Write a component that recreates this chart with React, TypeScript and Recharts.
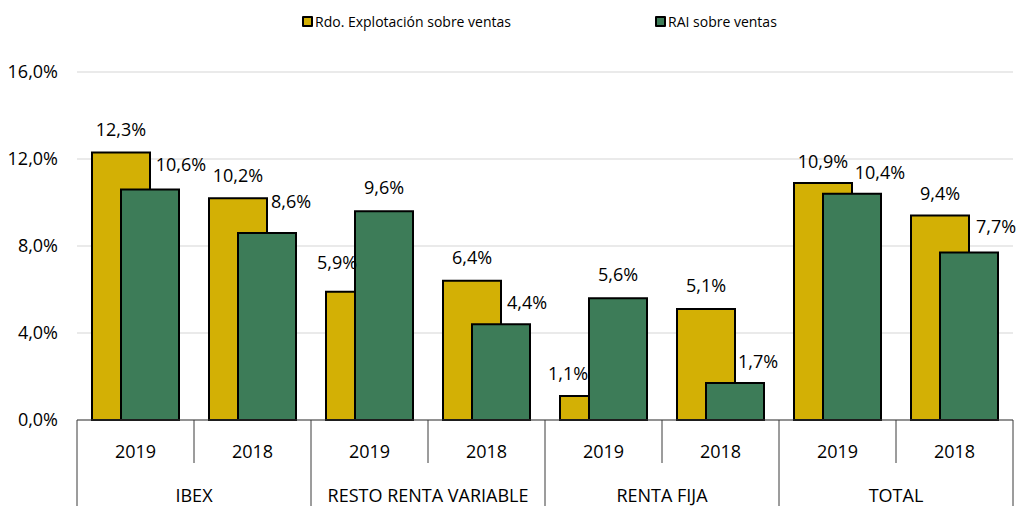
import React from 'react';
import { BarChart, Bar, XAxis, YAxis, CartesianGrid, Legend } from 'recharts';

const groups = ['IBEX', 'RESTO RENTA VARIABLE', 'RENTA FIJA', 'TOTAL'];
const years = ['2019', '2018'];
const rdoExplotacion = [12.3, 10.2, 5.9, 6.4, 1.1, 5.1, 10.9, 9.4];
const raiVentas = [10.6, 8.6, 9.6, 4.4, 5.6, 1.7, 10.4, 7.7];
const yTicks = [0, 4, 8, 12, 16];

const SERIES = [
  { key: 'rdo', name: 'Rdo. Explotación sobre ventas', color: '#D3B005' },
  { key: 'rai', name: 'RAI sobre ventas', color: '#3D7C58' },
];

// label nudges (dx, dy from bar top centre), placed by hand in the original
const rdoNudge = [[0, -23], [0, -23], [-18, -30], [0, -24], [-21, -23], [0, -24], [0, -22], [0, -23]];
const raiNudge = [[31, -25], [24, -32], [0, -24], [26, -22], [0, -24], [23, -22], [28, -22], [27, -27]];
const legendLeft = [302, 655];

const FONT = '"Open Sans", "Noto Sans", sans-serif';
const TXT = '#000';
const LINE = '#3a3a3a';

const data = groups.flatMap((g, gi) =>
  years.map((y, yi) => ({
    group: g,
    year: y,
    rdo: rdoExplotacion[gi * 2 + yi],
    rai: raiVentas[gi * 2 + yi],
  }))
);

const fmt = (v: number) => v.toFixed(1).replace('.', ',') + '%';

const makeLabel = (nudge: number[][]) => (props: any) => {
  const { x, y, width, value, index } = props;
  const [dx, dy] = nudge[index] || [0, -23];
  return (
    <text
      x={x + width / 2 + dx}
      y={y + dy}
      textAnchor="middle"
      dominantBaseline="central"
      fontSize={18}
      fontFamily={FONT}
      fill={TXT}
    >
      {fmt(value)}
    </text>
  );
};

const AxisTick = (props: any) => {
  const { x, y, payload, index } = props;
  const half = payload && payload.offset ? payload.offset : 58.5;
  const left = x - half;
  const isGroupStart = index % 2 === 0;
  const last = index === data.length - 1;
  return (
    <g>
      <line x1={left} y1={y} x2={left} y2={y + (isGroupStart ? 86 : 43)} stroke={LINE} strokeWidth={1} />
      {last && <line x1={x + half} y1={y} x2={x + half} y2={y + 86} stroke={LINE} strokeWidth={1} />}
      <text x={x} y={y + 31} textAnchor="middle" dominantBaseline="central" fontSize={18} fontFamily={FONT} fill={TXT}>
        {data[index] ? data[index].year : payload.value}
      </text>
      {!isGroupStart && data[index] && (
        <text x={left} y={y + 75} textAnchor="middle" dominantBaseline="central" fontSize={18} fontFamily={FONT} fill={TXT}>
          {data[index].group}
        </text>
      )}
    </g>
  );
};

const LegendContent = () => (
  <div style={{ position: 'relative', width: 1019, height: 20, fontFamily: FONT, fontSize: 14, color: TXT }}>
    {SERIES.map((s, i) => (
      <div key={s.key} style={{ position: 'absolute', left: legendLeft[i], top: 0, display: 'flex', alignItems: 'center', whiteSpace: 'nowrap' }}>
        <span style={{ display: 'inline-block', width: 7, height: 7, background: s.color, border: '2px solid #000', borderRadius: 1, marginRight: 2 }} />
        <span>{s.name}</span>
      </div>
    ))}
  </div>
);

export default function App() {
  return (
    <div style={{ position: 'absolute', left: 0, top: 0, width: 1019, height: 506, background: '#fff' }}>
      <BarChart
        width={1019}
        height={506}
        data={data}
        margin={{ top: 72, right: 6, bottom: 0, left: 0 }}
        barSize={58}
        barGap={-29}
      >
        <CartesianGrid vertical={false} stroke="#d6d6d6" strokeWidth={1.2} />
        <XAxis
          dataKey="year"
          interval={0}
          height={86}
          tickSize={0}
          tickMargin={0}
          axisLine={{ stroke: LINE, strokeWidth: 1 }}
          tickLine={false}
          tick={<AxisTick />}
        />
        <YAxis
          width={77}
          domain={[0, 16]}
          ticks={yTicks}
          tickFormatter={fmt}
          axisLine={false}
          tickLine={false}
          tickSize={0}
          tickMargin={19}
          tick={{ fontSize: 18, fontFamily: FONT, fill: TXT }}
        />
        <Legend
          verticalAlign="middle"
          align="center"
          wrapperStyle={{ top: 12, left: 0, width: 1019 }}
          content={<LegendContent />}
        />
        <Bar
          dataKey="rdo"
          name={SERIES[0].name}
          fill={SERIES[0].color}
          stroke="#000"
          strokeWidth={2}
          isAnimationActive={false}
          label={makeLabel(rdoNudge)}
        />
        <Bar
          dataKey="rai"
          name={SERIES[1].name}
          fill={SERIES[1].color}
          stroke="#000"
          strokeWidth={2}
          isAnimationActive={false}
          label={makeLabel(raiNudge)}
        />
      </BarChart>
    </div>
  );
}
